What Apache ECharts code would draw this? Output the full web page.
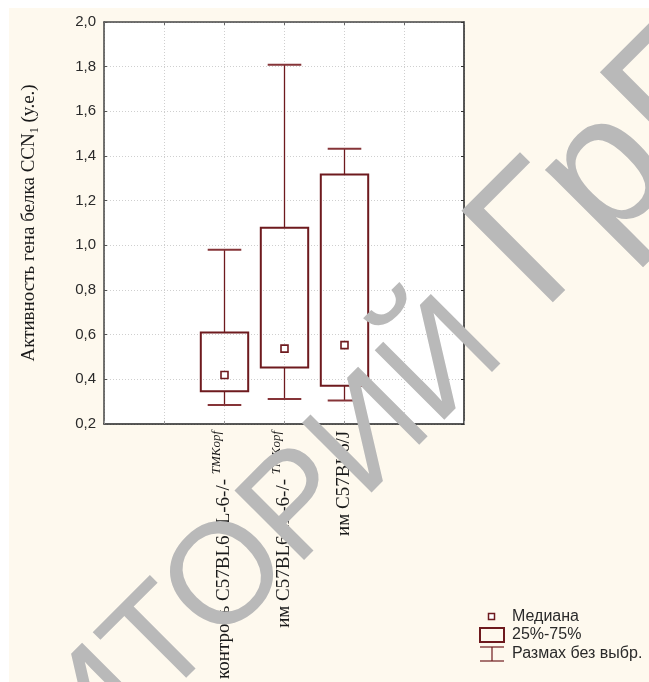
<!DOCTYPE html>
<html>
<head>
<meta charset="utf-8">
<script src="https://cdn.jsdelivr.net/npm/echarts@6/dist/echarts.min.js"></script>
<style>
html,body{margin:0;padding:0;background:#ffffff;}
#chart{position:absolute;left:9px;top:8px;width:640px;height:674px;}
</style>
</head>
<body>
<div id="chart"></div>
<script>
// ---- data ----
const categories = ['контроль C57BL6 IL-6-/-', 'им C57BL6 IL-6-/-', 'им C57BL6/J'];
const supLabels = ['TMKopf', 'TMKopf', ''];
const mins    = [0.285, 0.311, 0.305];
const q1s     = [0.346, 0.453, 0.371];
const medians = [0.419, 0.537, 0.553];
const q3s     = [0.609, 1.079, 1.317];
const maxs    = [0.980, 1.809, 1.432];
const yTicks  = [0.2, 0.4, 0.6, 0.8, 1.0, 1.2, 1.4, 1.6, 1.8, 2.0];
const legendLabels = ['Медиана', '25%-75%', 'Размах без выбр.'];
const yTitle = 'Активность гена белка CCN';
const watermarkLeft = 'РЕПОЗИТОРИЙ';
const watermarkRight = 'ГрГУ';

// axis slots: two empty slots on each side of the three groups
const axisData = ['', ''].concat(categories, ['', '']);
const seriesData = categories.map((c, i) => [axisData.indexOf(c), mins[i], q1s[i], medians[i], q3s[i], maxs[i]]);

const dark = '#6e1a1e';
const capColor = '#863438';

const chart = echarts.init(document.getElementById('chart'), null, {renderer: 'canvas'});

function renderItem(params, api) {
  const xi = api.value(0);
  const pMin = api.coord([xi, api.value(1)]);
  const pQ1 = api.coord([xi, api.value(2)]);
  const pMed = api.coord([xi, api.value(3)]);
  const pQ3 = api.coord([xi, api.value(4)]);
  const pMax = api.coord([xi, api.value(5)]);
  const band = api.size([1, 0])[0];
  const bw = band * 0.79;
  const cw = band * 0.56;
  const cx = Math.round(pQ1[0]) + 0.5;
  const ms = 7;
  return {
    type: 'group',
    children: [
      {type: 'line', shape: {x1: cx, y1: pMax[1], x2: cx, y2: pQ3[1]}, style: {stroke: dark, lineWidth: 1.3}},
      {type: 'line', shape: {x1: cx, y1: pQ1[1], x2: cx, y2: pMin[1]}, style: {stroke: dark, lineWidth: 1.3}},
      {type: 'line', shape: {x1: cx - cw / 2, y1: pMax[1], x2: cx + cw / 2, y2: pMax[1]}, style: {stroke: capColor, lineWidth: 2}},
      {type: 'line', shape: {x1: cx - cw / 2, y1: pMin[1], x2: cx + cw / 2, y2: pMin[1]}, style: {stroke: capColor, lineWidth: 2}},
      {type: 'rect', shape: {x: cx - bw / 2, y: pQ3[1], width: bw, height: pQ1[1] - pQ3[1]}, style: {fill: 'none', stroke: dark, lineWidth: 2}},
      {type: 'rect', shape: {x: cx - ms / 2, y: pMed[1] - ms / 2, width: ms, height: ms}, style: {fill: '#ffffff', stroke: dark, lineWidth: 1.6}}
    ]
  };
}

const tickFmt = v => v.toFixed(1).replace('.', ',');

const legendX = 471, legendTextX = 503;
const legendY = [608.5, 627, 646];

const wmRot = Math.PI / 4;

const option = {
  backgroundColor: '#fef9ee',
  animation: false,
  grid: {left: 93, top: 14, right: 185, bottom: 254, show: true, backgroundColor: '#ffffff', borderWidth: 0},
  xAxis: [
    {
      type: 'category', data: axisData, boundaryGap: false, position: 'bottom',
      axisLine: {lineStyle: {color: '#222', width: 1.5}},
      axisTick: {show: true, inside: true, length: 3, interval: 0, lineStyle: {color: '#999'}},
      splitLine: {show: true, interval: 0, lineStyle: {color: '#cfcfcf', type: [1, 2], width: 1}},
      axisLabel: {
        interval: 0, rotate: 90, margin: 7,
        fontFamily: 'Liberation Serif', fontSize: 19, color: '#1a1a1a', lineHeight: 28,
        formatter: function (value) {
          const i = categories.indexOf(value);
          if (i < 0) return '';
          return supLabels[i] ? value + ' {sup|' + supLabels[i] + '}' : value;
        },
        rich: {sup: {fontFamily: 'Liberation Serif', fontStyle: 'italic', fontSize: 13, lineHeight: 13, verticalAlign: 'top', color: '#1a1a1a'}}
      }
    },
    {
      type: 'category', data: axisData, boundaryGap: false, position: 'top',
      axisLine: {lineStyle: {color: '#444', width: 1.5}},
      axisTick: {show: true, inside: true, length: 3, interval: 0, lineStyle: {color: '#666'}},
      axisLabel: {show: false}, splitLine: {show: false}
    }
  ],
  yAxis: [
    {
      type: 'value', min: yTicks[0], max: yTicks[yTicks.length - 1], interval: 0.2, position: 'left',
      axisLine: {show: true, lineStyle: {color: '#444', width: 1.5}},
      axisTick: {show: true, inside: true, length: 3, lineStyle: {color: '#555'}},
      splitLine: {show: true, lineStyle: {color: '#cfcfcf', type: [1, 2], width: 1}},
      axisLabel: {formatter: tickFmt, fontFamily: 'Liberation Sans', fontSize: 15, color: '#2a2a2a', margin: 8},
      name: yTitle + '{sub|1} (у.е.)', nameLocation: 'middle', nameGap: 63,
      nameTextStyle: {fontFamily: 'Liberation Serif', fontSize: 19, color: '#1a1a1a', lineHeight: 24,
        rich: {sub: {fontFamily: 'Liberation Serif', fontSize: 12, lineHeight: 12, verticalAlign: 'bottom', color: '#1a1a1a'}}}
    },
    {
      type: 'value', min: yTicks[0], max: yTicks[yTicks.length - 1], interval: 0.2, position: 'right',
      axisLine: {show: true, lineStyle: {color: '#222', width: 1.5}},
      axisTick: {show: true, inside: true, length: 3, lineStyle: {color: '#333'}},
      splitLine: {show: false}, axisLabel: {show: false}
    }
  ],
  series: [{
    type: 'custom', xAxisIndex: 0, yAxisIndex: 0,
    renderItem: renderItem,
    encode: {x: 0, y: [1, 2, 3, 4, 5]},
    data: seriesData, z: 5
  }],
  graphic: [
    // legend
    {type: 'rect', shape: {x: legendX + 8.5, y: legendY[0] - 3, width: 6, height: 6}, style: {fill: '#fff', stroke: dark, lineWidth: 1.5}, z: 50},
    {type: 'rect', shape: {x: legendX, y: legendY[1] - 7, width: 24, height: 14}, style: {fill: 'none', stroke: dark, lineWidth: 2}, z: 50},
    {type: 'line', shape: {x1: legendX, y1: legendY[2] - 7, x2: legendX + 24, y2: legendY[2] - 7}, style: {stroke: dark, lineWidth: 1.2}, z: 50},
    {type: 'line', shape: {x1: legendX, y1: legendY[2] + 7, x2: legendX + 24, y2: legendY[2] + 7}, style: {stroke: dark, lineWidth: 1.2}, z: 50},
    {type: 'line', shape: {x1: legendX + 12, y1: legendY[2] - 7, x2: legendX + 12, y2: legendY[2] + 7}, style: {stroke: dark, lineWidth: 1.2}, z: 50},
    {type: 'text', x: legendTextX, y: legendY[0], style: {text: legendLabels[0], fontFamily: 'Liberation Sans', fontSize: 16, fill: '#2a2a2a', verticalAlign: 'middle'}, z: 50},
    {type: 'text', x: legendTextX, y: legendY[1], style: {text: legendLabels[1], fontFamily: 'Liberation Sans', fontSize: 16, fill: '#2a2a2a', verticalAlign: 'middle'}, z: 50},
    {type: 'text', x: legendTextX, y: legendY[2], style: {text: legendLabels[2], fontFamily: 'Liberation Sans', fontSize: 16, fill: '#2a2a2a', verticalAlign: 'middle'}, z: 50},
    // watermark
    {type: 'text', x: 496.4, y: 268.5, rotation: wmRot, silent: true, z: 100,
      style: {text: watermarkRight, fontFamily: 'Liberation Sans', fontSize: 188, fill: '#b9b9b9', align: 'left', verticalAlign: 'middle', blend: 'multiply'}},
    {type: 'text', x: 471.7, y: 319.5, rotation: wmRot, silent: true, z: 100,
      style: {text: watermarkLeft, fontFamily: 'Liberation Sans', fontSize: 143, fill: '#b9b9b9', align: 'right', verticalAlign: 'middle', blend: 'multiply'}}
  ]
};
chart.setOption(option);
</script>
</body>
</html>
